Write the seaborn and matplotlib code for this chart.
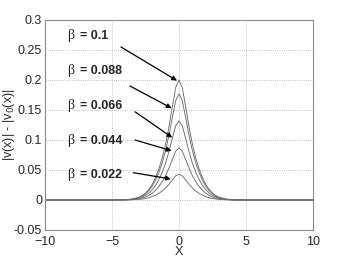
import numpy as np
import pandas as pd
import matplotlib
matplotlib.use("Agg")
import matplotlib.pyplot as plt
import seaborn as sns

# x positions sampled along the curves
x_vals = [-10, -5, -4, -3.5, -3, -2.75, -2.5, -2.25, -2, -1.75, -1.5, -1.25, -1, -0.75, -0.5, -0.25,
          0, 0.25, 0.5, 0.75, 1, 1.25, 1.5, 1.75, 2, 2.25, 2.5, 2.75, 3, 3.5, 4, 5, 10]

# |v(x)| - |v0(x)|, one list per beta
v_b100 = [0, 0, .0004, .0016, .0046, .0074, .0116, .0176, .026, .037, .052, .070, .093, .122, .155, .187,
          .200, .187, .155, .122, .093, .070, .052, .037, .026, .0176, .0116, .0074, .0046, .0016, .0004, 0, 0]
v_b088 = [0, 0, .0004, .0014, .0041, .0065, .0103, .0156, .0230, .0327, .0460, .0620, .0823, .1080, .1372, .1655,
          .177, .1655, .1372, .1080, .0823, .0620, .0460, .0327, .0230, .0156, .0103, .0065, .0041, .0014, .0004, 0, 0]
v_b066 = [0, 0, .0003, .0011, .0030, .0049, .0077, .0116, .0172, .0244, .0343, .0462, .0614, .0805, .1023, .1234,
          .132, .1234, .1023, .0805, .0614, .0462, .0343, .0244, .0172, .0116, .0077, .0049, .0030, .0011, .0003, 0, 0]
v_b044 = [0, 0, .0002, .0007, .0020, .0032, .0050, .0077, .0113, .0161, .0226, .0305, .0405, .0531, .0674, .0813,
          .087, .0813, .0674, .0531, .0405, .0305, .0226, .0161, .0113, .0077, .0050, .0032, .0020, .0007, .0002, 0, 0]
v_b022 = [0, 0, .0001, .0003, .0010, .0016, .0025, .0038, .0056, .0080, .0112, .0151, .0200, .0262, .0333, .0402,
          .043, .0402, .0333, .0262, .0200, .0151, .0112, .0080, .0056, .0038, .0025, .0016, .0010, .0003, .0001, 0, 0]

betas = ["0.1", "0.088", "0.066", "0.044", "0.022"]
series = [v_b100, v_b088, v_b066, v_b044, v_b022]

# annotation label heights (baseline), arrow tails and arrow tips
label_y = [0.2675, 0.210, 0.1517, 0.0928, 0.0372]
tail_xy = [(-4.33, 0.255), (-3.66, 0.19), (-3.28, 0.147), (-3.28, 0.10), (-3.41, 0.0455)]
tip_xy = [(-0.15, 0.199), (-0.55, 0.153), (-0.5, 0.104), (-0.55, 0.082), (-0.6, 0.035)]

x_ticks = [-10, -5, 0, 5, 10]
y_ticks = [-0.05, 0, 0.05, 0.1, 0.15, 0.2, 0.25, 0.3]
y_tick_labels = ["-0.05", "0", "0.05", "0.1", "0.15", "0.2", "0.25", "0.3"]

df = pd.concat([pd.DataFrame({"x": x_vals, "v": s, "beta": b}) for b, s in zip(betas, series)])

sns.set_style("white")
plt.rcParams["font.family"] = ["Liberation Sans", "DejaVu Sans"]

fig = plt.figure(figsize=(3.46, 2.6), dpi=100)
ax = fig.add_axes([0.130, 0.1154, 0.7746, 0.8077])

sns.lineplot(data=df, x="x", y="v", hue="beta", palette=["#6c6c6c"] * 5, legend=False,
             linewidth=0.65, errorbar=None, ax=ax)

ax.set_xlim(-10, 10)
ax.set_ylim(-0.05, 0.3)
ax.set_xticks(x_ticks)
ax.set_yticks(y_ticks)
ax.set_yticklabels(y_tick_labels)
ax.grid(True, linestyle=":", color="#b0b0b0", linewidth=0.6)
ax.tick_params(direction="in", length=3, width=0.5, color="#777777", labelsize=9, pad=2)
ax.tick_params(axis="x", pad=4)
for sp in ax.spines.values():
    sp.set_color("#8a8a8a")
    sp.set_linewidth(0.8)

ax.set_xlabel("X", fontsize=9, labelpad=-1)
ax.set_ylabel("|v(x)| - |v$_0$(x)|", fontsize=9)
ax.yaxis.set_label_coords(-0.105, 0.5)

for b, ly, tail, tip in zip(betas, label_y, tail_xy, tip_xy):
    ax.text(-8.36, ly, "\u03b2", fontsize=10, family="Liberation Serif", va="baseline")
    ax.text(-7.4, ly, "= " + b, fontsize=9, fontweight="bold", va="baseline")
    ax.annotate("", xy=tip, xytext=tail,
                arrowprops=dict(arrowstyle="-|>", color="black", lw=0.9, mutation_scale=7,
                                shrinkA=0, shrinkB=0))

fig.savefig("out.png", dpi=100)
